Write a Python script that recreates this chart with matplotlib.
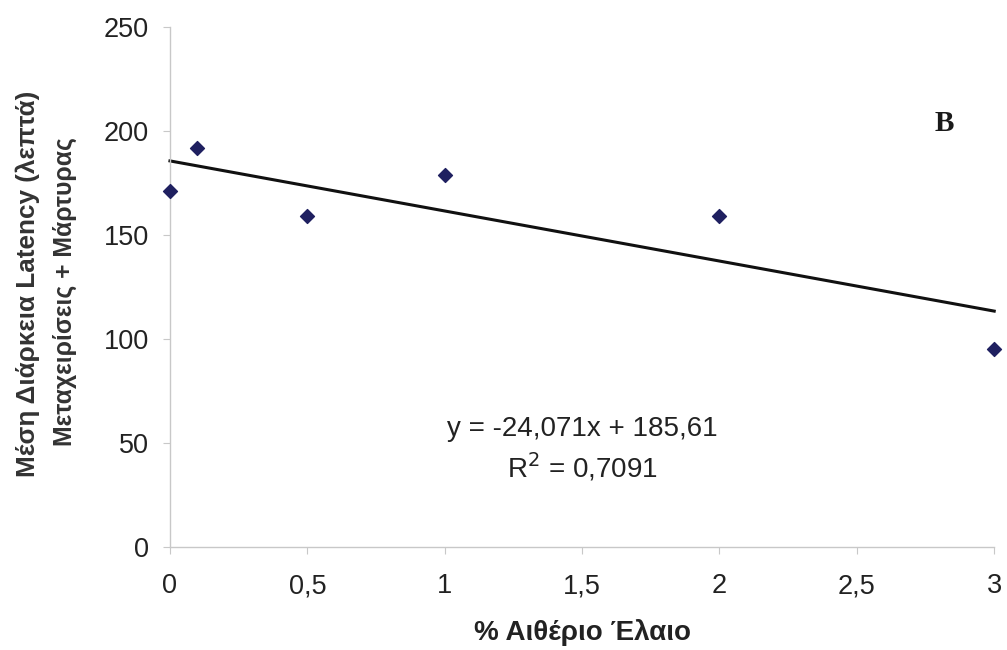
import matplotlib
matplotlib.use("Agg")
import matplotlib.pyplot as plt
import numpy as np

# Data
oil_pct = [0, 0.1, 0.5, 1, 2, 3]
latency = [171, 192, 159, 179, 159, 95]
slope = -24.071
intercept = 185.61
x_ticks = [0, 0.5, 1, 1.5, 2, 2.5, 3]
x_tick_labels = ["0", "0,5", "1", "1,5", "2", "2,5", "3"]
y_ticks = [0, 50, 100, 150, 200, 250]
y_tick_labels = ["0", "50", "100", "150", "200", "250"]
y_label_lines = ["Μέση Διάρκεια Latency (λεπτά)", "Μεταχειρίσεις + Μάρτυρας"]

plt.rcParams['font.family'] = ['Liberation Sans', 'DejaVu Sans']

fig = plt.figure(figsize=(10.07, 6.5), dpi=100)
ax = fig.add_axes([0.1688, 0.1585, 0.8185, 0.80])

ax.scatter(oil_pct, latency, marker='D', s=50, color='#1f2060', zorder=3, clip_on=False)
xs = np.array([min(oil_pct), max(oil_pct)])
ax.plot(xs, slope * xs + intercept, color='#111111', lw=2.2, zorder=2, clip_on=False)

ax.set_xlim(0, 3)
ax.set_ylim(0, 250)
ax.set_xticks(x_ticks)
ax.set_xticklabels(x_tick_labels)
ax.set_yticks(y_ticks)
ax.set_yticklabels(y_tick_labels)

for s in ['top', 'right']:
    ax.spines[s].set_visible(False)
for s in ['left', 'bottom']:
    ax.spines[s].set_color('#c8c8c8')
    ax.spines[s].set_linewidth(1.0)

ax.tick_params(axis='y', direction='out', length=5, color='#c8c8c8', labelsize=19.5, pad=10, labelcolor='#222222')
ax.tick_params(axis='x', direction='out', length=5, color='#c8c8c8', labelsize=19.5, pad=14, labelcolor='#222222')

ax.set_xlabel("% Αιθέριο Έλαιο", fontsize=20, fontweight='bold', labelpad=14, color='#222222')

fig.text(0.0278, 0.563, y_label_lines[0], rotation=90, ha='center', va='center',
         fontsize=18.8, fontweight='bold', color='#333333')
fig.text(0.0645, 0.551, y_label_lines[1], rotation=90, ha='center', va='center',
         fontsize=17.8, fontweight='bold', color='#333333')

ax.text(0.50, 0.227, "y = -24,071x + 185,61", transform=ax.transAxes, ha='center', va='center',
        fontsize=20, color='#222222')
ax.text(0.50, 0.154, "R$^2$ = 0,7091", transform=ax.transAxes, ha='center', va='center',
        fontsize=20, color='#222222')
ax.text(0.939, 0.815, "B", transform=ax.transAxes, ha='center', va='center',
        fontsize=21, fontweight='bold', family='Liberation Serif', color='#1a1a1a')

fig.savefig("out.png", dpi=100)
